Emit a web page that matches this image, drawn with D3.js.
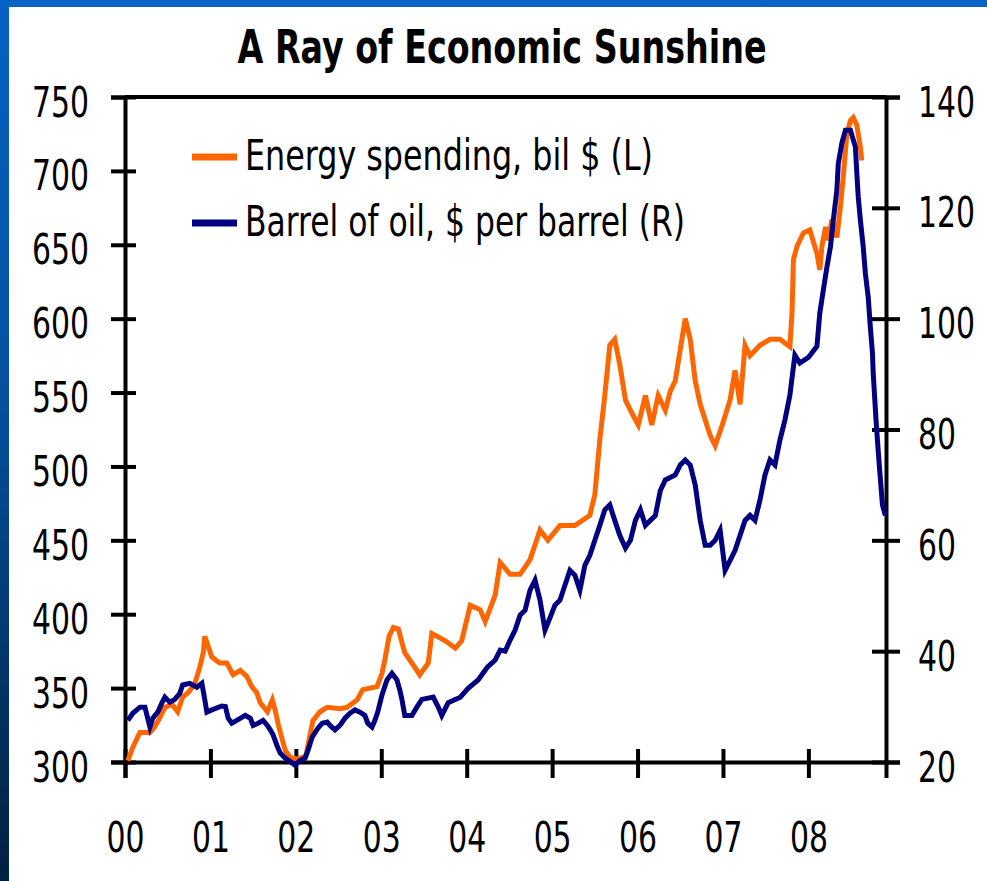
<!DOCTYPE html>
<html>
<head>
<meta charset="utf-8">
<script src="https://cdn.jsdelivr.net/npm/d3@7"></script>
<style>
  body { margin: 0; overflow: hidden; background: #fff; }
  text { font-family: "Liberation Sans Narrow", "Arial Narrow", "DejaVu Sans Condensed", sans-serif; }
</style>
</head>
<body>
<div id="chart"></div>
<script>
// ---- data (months since Jan 2000) ----
var yearLabels = ["00", "01", "02", "03", "04", "05", "06", "07", "08"];
var yearTicks = [0, 12, 24, 36, 48, 60, 72, 84, 96];
var leftTicks = [300, 350, 400, 450, 500, 550, 600, 650, 700, 750];
var rightTicks = [20, 40, 60, 80, 100, 120, 140];

// Energy spending, bil $ (left axis)
var spendMonth = [0.4, 1.1, 2.1, 3.5, 4.2, 4.9, 5.6, 6.6, 7.4, 8.1,
    8.9, 9.8, 10.5, 11.0, 11.2, 12.2, 13.3, 14.3, 15.2, 16.2,
    17.1, 17.8, 18.5, 19.0, 20.0, 20.7, 21.1, 21.5, 22.1, 22.5,
    23.2, 24.2, 25.4, 26.4, 27.4, 28.4, 30.2, 31.2, 32.6, 33.4,
    35.4, 36.1, 36.5, 37.1, 37.7, 38.4, 39.3, 40.3, 41.4, 42.6,
    43.1, 45.0, 46.4, 47.3, 48.5, 49.9, 50.6, 52.0, 52.7, 54.1,
    55.5, 56.9, 58.3, 59.4, 61.1, 63.2, 65.3, 66.0, 66.7, 67.4,
    68.1, 68.8, 69.5, 70.3, 71.0, 72.1, 73.1, 74.0, 74.9, 75.9,
    76.6, 77.3, 78.0, 78.7, 79.4, 80.1, 80.8, 82.2, 82.9, 83.9,
    85.0, 85.7, 86.4, 87.1, 87.8, 89.2, 90.6, 92.0, 93.4, 93.7,
    93.9, 94.4, 95.3, 96.2, 97.2, 97.6, 97.9, 98.4, 98.8, 99.3,
    100.0, 100.5, 100.9, 101.4, 101.9, 102.3, 102.8, 103.3, 103.5];
var spendValue = [301, 310, 320, 320, 324, 330, 337, 339, 334, 344,
    347, 353, 364, 374, 385, 371, 367, 367, 359, 362,
    358, 351, 347, 340, 334, 342, 335, 326, 315, 308,
    303, 302, 304, 328, 334, 337, 336, 337, 342, 349,
    351, 360, 369, 385, 391, 390, 374, 367, 359, 367,
    387, 382, 377, 382, 406, 403, 395, 413, 435, 427,
    427, 437, 457, 450, 460, 460, 467, 481, 518, 548,
    582, 586, 569, 545, 538, 528, 548, 528, 548, 538,
    551, 558, 579, 600, 586, 558, 542, 521, 514, 528,
    545, 565, 542, 582, 575, 582, 586, 586, 581, 604,
    640, 649, 658, 660, 644, 633, 649, 662, 653, 667,
    655, 676, 696, 725, 734, 736, 731, 716, 707];

// Barrel of oil, $ per barrel (right axis)
var oilMonth = [0.4, 1.1, 2.1, 2.8, 3.5, 3.9, 4.6, 5.2, 5.6, 6.3,
    7.0, 7.7, 8.1, 9.1, 10.1, 10.8, 11.2, 11.5, 12.2, 13.6,
    14.1, 14.5, 15.0, 15.7, 16.9, 17.6, 18.0, 18.7, 19.4, 20.0,
    20.4, 20.8, 21.4, 21.8, 22.5, 23.5, 23.9, 24.6, 25.3, 25.7,
    26.3, 27.1, 27.7, 28.4, 28.8, 29.5, 30.2, 30.9, 31.6, 32.3,
    33.0, 33.7, 34.1, 34.7, 35.1, 35.5, 36.1, 36.8, 37.5, 38.2,
    38.6, 38.9, 39.3, 40.3, 41.0, 41.7, 43.3, 44.0, 44.5, 45.4,
    47.1, 48.2, 49.6, 50.9, 52.0, 52.7, 53.4, 54.1, 54.8, 55.5,
    56.2, 56.9, 57.6, 58.3, 59.0, 59.7, 60.4, 61.1, 61.8, 62.5,
    63.2, 63.9, 64.6, 65.3, 66.0, 66.7, 67.4, 68.1, 68.8, 69.5,
    70.3, 71.0, 71.7, 72.4, 73.1, 74.5, 75.2, 75.9, 77.3, 78.0,
    78.7, 79.4, 80.1, 80.8, 81.5, 82.2, 82.9, 83.6, 84.3, 85.0,
    85.7, 86.4, 87.1, 87.8, 88.5, 89.2, 89.9, 90.6, 91.3, 92.0,
    92.7, 93.4, 94.1, 94.8, 96.0, 97.2, 97.6, 98.1, 98.6, 99.1,
    99.5, 100.0, 100.2, 100.7, 101.2, 101.9, 102.6, 102.8, 103.0, 103.3,
    103.7, 104.0, 104.4, 104.7, 105.0, 105.1, 105.5, 105.9, 106.4, 106.8];
var oilValue = [27.5, 28.8, 29.9, 29.9, 26.3, 27.9, 29.0, 30.7, 31.7, 30.8,
    31.3, 32.4, 33.9, 34.2, 33.5, 34.2, 31.3, 29.0, 29.4, 30.1,
    30.0, 27.9, 27.0, 27.5, 28.4, 27.9, 26.6, 27.0, 27.5, 26.6,
    25.8, 24.9, 22.8, 21.6, 20.7, 19.8, 19.4, 20.3, 20.7, 22.1,
    24.5, 26.1, 27.0, 27.2, 26.6, 25.8, 26.6, 27.9, 28.8, 29.4,
    29.0, 28.4, 27.0, 26.3, 27.5, 29.0, 32.1, 34.8, 36.0, 34.8,
    33.0, 31.3, 28.4, 28.4, 29.9, 31.3, 31.7, 29.9, 28.4, 30.7,
    31.7, 33.3, 34.8, 37.1, 38.4, 40.2, 40.0, 42.0, 43.8, 46.5,
    47.4, 51.0, 52.8, 49.2, 43.8, 46.0, 48.3, 49.2, 51.9, 54.6,
    53.7, 51.0, 55.5, 57.3, 60.0, 62.7, 65.5, 66.4, 63.6, 60.9,
    58.6, 60.0, 63.6, 65.5, 62.7, 64.5, 69.0, 70.9, 71.8, 73.6,
    74.5, 73.6, 70.0, 63.6, 59.1, 59.1, 60.0, 61.8, 54.6, 56.4,
    58.2, 60.9, 63.6, 64.5, 63.6, 67.3, 71.8, 74.5, 73.6, 78.1,
    81.7, 86.2, 93.4, 92.0, 93.0, 95.0, 101, 105.2, 109.3, 113,
    117.8, 123.2, 128, 131.7, 134, 134, 131, 126.3, 122, 117.8,
    113, 108.2, 103.9, 98.5, 93.8, 90.2, 81.7, 74.5, 66.4, 64.5];

var titleText = "A Ray of Economic Sunshine";
var seriesNames = ["Energy spending, bil $ (L)", "Barrel of oil, $ per barrel (R)"];
var seriesColors = ["#ff6600", "#000080"];

// ---- layout ----
var W = 987, H = 881;
var margin = {top: 97, right: 101, bottom: 119, left: 125},
    width = W - margin.left - margin.right,
    height = H - margin.top - margin.bottom;

var svgRoot = d3.select("#chart")
    .append("svg")
    .attr("width", W)
    .attr("height", H);

// slide background: blue gradient frame + white panel
var grad = svgRoot.append("defs").append("linearGradient")
    .attr("id", "bg").attr("x1", 0).attr("y1", 0).attr("x2", 0).attr("y2", 1);
grad.append("stop").attr("offset", "0%").attr("stop-color", "#0563c3");
grad.append("stop").attr("offset", "45%").attr("stop-color", "#04519f");
grad.append("stop").attr("offset", "100%").attr("stop-color", "#01203f");
svgRoot.append("rect").attr("width", W).attr("height", H).attr("fill", "url(#bg)");
svgRoot.append("rect").attr("x", 9).attr("y", 7).attr("width", W - 9).attr("height", H - 7).attr("fill", "#fff");

// title
svgRoot.append("text")
    .attr("x", 502)
    .attr("y", 63)
    .attr("text-anchor", "middle")
    .attr("font-size", 47)
    .attr("font-weight", "bold")
    .attr("textLength", 529)
    .attr("lengthAdjust", "spacingAndGlyphs")
    .text(titleText);

var svg = svgRoot.append("g")
    .attr("transform", "translate(" + margin.left + "," + margin.top + ")");

// scales
var x = d3.scaleLinear().domain([0, 106.9]).range([0, width]);
var yL = d3.scaleLinear().domain([300, 750]).range([height, 0]);
var yR = d3.scaleLinear().domain([20, 140]).range([height, 0]);

// axes (ticks cross the axis line)
function styleAxis(g) {
    g.attr("font-size", 43).attr("font-family", null);
    g.selectAll(".domain, .tick line").attr("stroke", "#000").attr("stroke-width", 4);
    g.selectAll(".tick text").attr("fill", "#000");
}

// squeeze tick labels horizontally to the narrow look (about 19px per digit)
function squeeze(sel, tx, ty) {
    sel.each(function() {
        var natural = this.getComputedTextLength();
        var sx = (this.textContent.length * 19) / natural;
        d3.select(this)
            .attr("x", 0).attr("y", 0).attr("dy", null)
            .attr("transform", "translate(" + tx + "," + ty + ") scale(" + sx + ",1)");
    });
}

var gx = svg.append("g")
    .attr("transform", "translate(0," + height + ")")
    .call(d3.axisBottom(x).tickValues(yearTicks)
        .tickFormat(function(d, i) { return yearLabels[i]; })
        .tickSizeOuter(0).tickSize(16));
styleAxis(gx);
gx.selectAll(".tick line").attr("y1", -13).attr("y2", 16);
squeeze(gx.selectAll(".tick text"), 0, 90);

var gl = svg.append("g")
    .call(d3.axisLeft(yL).tickValues(leftTicks).tickSizeOuter(0).tickSize(14));
styleAxis(gl);
gl.selectAll(".tick line").attr("x1", -14).attr("x2", 11);
squeeze(gl.selectAll(".tick text"), -36, 19);

var gr = svg.append("g")
    .attr("transform", "translate(" + width + ",0)")
    .call(d3.axisRight(yR).tickValues(rightTicks).tickSizeOuter(0).tickSize(14));
styleAxis(gr);
gr.selectAll(".tick line").attr("x1", -14).attr("x2", 14);
squeeze(gr.selectAll(".tick text"), 32, 19);

// top border of the plot box
svg.append("line")
    .attr("x1", 0).attr("x2", width)
    .attr("y1", 0).attr("y2", 0)
    .attr("stroke", "#000").attr("stroke-width", 4);

// lines
var spendData = d3.zip(spendMonth, spendValue);
var oilData = d3.zip(oilMonth, oilValue);

svg.append("path")
    .datum(spendData)
    .attr("fill", "none")
    .attr("stroke", seriesColors[0])
    .attr("stroke-width", 5)
    .attr("d", d3.line().x(function(d) { return x(d[0]); }).y(function(d) { return yL(d[1]); }));

svg.append("path")
    .datum(oilData)
    .attr("fill", "none")
    .attr("stroke", seriesColors[1])
    .attr("stroke-width", 5)
    .attr("d", d3.line().x(function(d) { return x(d[0]); }).y(function(d) { return yR(d[1]); }));

// legend
var legendWidths = [408, 440];
var legend = svgRoot.append("g").attr("transform", "translate(192,157)");
seriesNames.forEach(function(name, i) {
    var row = legend.append("g").attr("transform", "translate(0," + (i * 66) + ")");
    row.append("line")
        .attr("x1", 0).attr("x2", 45)
        .attr("stroke", seriesColors[i])
        .attr("stroke-width", 7);
    row.append("text")
        .attr("x", 53)
        .attr("y", 13)
        .attr("font-size", 42)
        .attr("textLength", legendWidths[i])
        .attr("lengthAdjust", "spacingAndGlyphs")
        .text(name);
});
</script>
</body>
</html>
